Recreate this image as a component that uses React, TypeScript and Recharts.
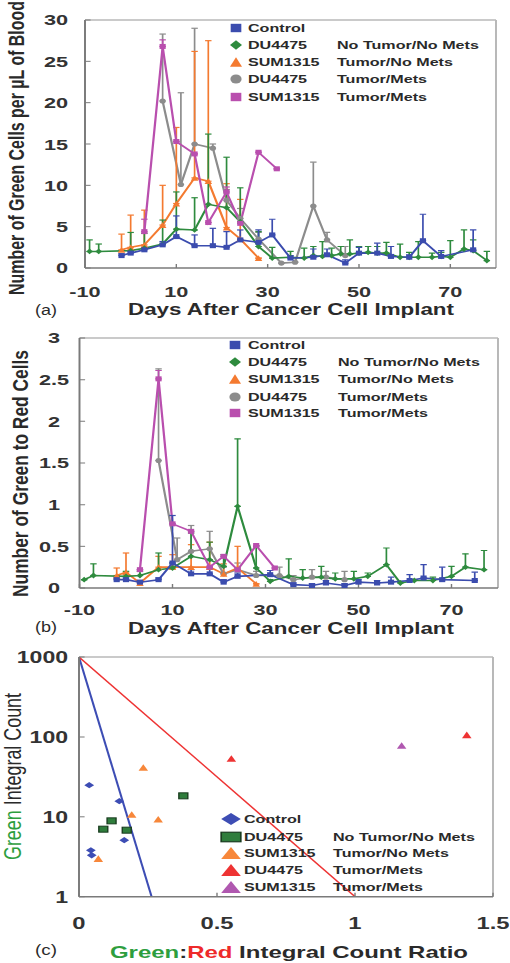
import React from 'react';
import { ComposedChart, Line, Scatter, XAxis, YAxis, ErrorBar, ReferenceLine } from 'recharts';

// ---------- shared tick labels ----------
const dayTicks = [-10, 10, 30, 50, 70];
const cellTicks = [0, 5, 10, 15, 20, 25, 30];
const ratioTicks = [0, 0.5, 1, 1.5, 2, 2.5, 3];
const countRatioTicks = [0, 0.5, 1, 1.5];
const integralTicks = [1, 10, 100, 1000];

const groupNames = ['Control', 'DU4475', 'SUM1315', 'DU4475', 'SUM1315'];
const groupStatus = ['', 'No Tumor/No Mets', 'Tumor/No Mets', 'Tumor/Mets', 'Tumor/Mets'];

// ---------- panel (a): green cells per µL of blood ----------
const ctrlDaysA = [-2, 0, 3, 7, 10, 14, 18, 21, 24, 28, 31, 35, 40, 43, 47, 50, 54, 57, 61, 64, 68, 75];
const ctrlValsA = [1.5, 1.8, 2.2, 2.8, 3.8, 2.7, 2.7, 2.5, 3.4, 3.1, 4.0, 1.2, 1.3, 1.6, 0.6, 1.8, 1.8, 1.4, 1.3, 3.3, 1.4, 2.2];
const ctrlErrA = [0.2, 0.2, 0.3, 0.4, 2.5, 1.3, 2.1, 1.9, 1.2, 1.5, 1.9, 0.3, 1.0, 0.7, 0.4, 0.7, 1.2, 1.2, 0.3, 3.2, 0.7, 2.4];

const duNoDaysA = [-9, -7, 0, 3, 7, 10, 14, 17, 21, 24, 28, 31, 35, 38, 40, 42, 44, 46, 48, 50, 52, 54, 56, 59, 61, 63, 66, 68, 70, 73, 75, 78];
const duNoValsA = [2.0, 2.0, 2.1, 2.4, 2.9, 4.7, 4.6, 7.7, 7.3, 5.6, 2.6, 1.2, 1.3, 1.2, 1.5, 1.4, 1.5, 1.7, 1.7, 1.8, 1.9, 1.8, 1.8, 1.3, 1.3, 1.3, 1.3, 1.4, 1.3, 2.3, 2.1, 0.9];
const duNoErrA = [1.4, 0.9, 2.2, 1.8, 2.9, 4.5, 3.9, 8.5, 6.1, 4.1, 1.8, 1.3, 0.7, 1.2, 1.1, 1.8, 0.9, 0.9, 1.7, 0.8, 0.7, 0.8, 1.3, 1.6, 0.6, 1.9, 0.5, 0.5, 2.0, 2.3, 1.3, 1.1];

const sumNoDaysA = [-2, 0, 3, 7, 10, 14, 17, 21, 24, 28];
const sumNoValsA = [2.2, 2.5, 2.8, 5.2, 7.8, 10.9, 10.5, 4.9, 3.5, 1.2];
const sumNoErrA = [1.9, 3.9, 4.2, 4.8, 9.2, 15.3, 17.0, 5.3, 4.8, 0];

const duMetDaysA = [7, 11, 14, 18, 21, 24, 28, 33, 36, 40, 43, 47];
const duMetValsA = [20.2, 10.1, 15.0, 14.5, 8.2, 6.0, 3.5, 0.6, 0.7, 7.5, 3.4, 1.5];
const duMetErrA = [8.1, 11.1, 14.0, 0.5, 1.3, 1.2, 0.8, 0, 0, 5.3, 0.9, 1.1];

const sumMetDaysA = [3, 7, 10, 14, 17, 21, 24, 28, 32];
const sumMetValsA = [4.4, 26.8, 15.3, 13.8, 5.5, 9.2, 5.4, 14.0, 12.0];
const sumMetErrA = [1.5, 0.8, 0, 0, 0, 0.6, 0, 0, 0];

// ---------- panel (b): green to red cell ratio ----------
const ctrlDaysB = [-2, 0, 3, 7, 10, 14, 18, 21, 24, 31, 36, 40, 43, 47, 50, 54, 57, 61, 64, 68, 75];
const ctrlValsB = [0.1, 0.1, 0.07, 0.1, 0.3, 0.17, 0.17, 0.07, 0.14, 0.16, 0.04, 0.03, 0.06, 0.03, 0.07, 0.06, 0.07, 0.09, 0.12, 0.1, 0.09];
const ctrlErrB = [0.02, 0.02, 0.02, 0.02, 0.57, 0.05, 0.06, 0.03, 0.04, 0.05, 0.02, 0.02, 0.03, 0.02, 0.03, 0.03, 0.06, 0.07, 0.16, 0.15, 0.1];

const duNoDaysB = [-9, -7, 0, 3, 7, 10, 14, 18, 21, 24, 28, 31, 35, 38, 42, 45, 49, 52, 56, 59, 62, 66, 70, 73, 77];
const duNoValsB = [0.1, 0.15, 0.14, 0.15, 0.22, 0.24, 0.38, 0.34, 0.26, 0.98, 0.24, 0.08, 0.14, 0.12, 0.13, 0.11, 0.11, 0.14, 0.28, 0.06, 0.09, 0.09, 0.14, 0.25, 0.22];
const duNoErrB = [0, 0.14, 0.06, 0.05, 0.2, 0.06, 0.28, 0.21, 0.14, 0.81, 0.26, 0.02, 0.21, 0.1, 0.13, 0.07, 0.09, 0.04, 0.2, 0.01, 0.01, 0.04, 0.12, 0.16, 0.23];

const sumNoDaysB = [-2, 0, 3, 7, 10, 14, 18, 21, 24, 28];
const sumNoValsB = [0.15, 0.19, 0.06, 0.25, 0.25, 0.25, 0.25, 0.17, 0.24, 0.05];
const sumNoErrB = [0.09, 0.23, 0.03, 0.13, 0.15, 0.27, 0.3, 0.12, 0.26, 0];

const duMetDaysB = [7, 11, 14, 18, 21, 24, 28, 33, 36, 40, 43, 47];
const duMetValsB = [1.53, 0.34, 0.44, 0.47, 0.17, 0.22, 0.15, 0.15, 0.1, 0.13, 0.13, 0.1];
const duMetErrB = [1.1, 0.26, 0.31, 0.21, 0.08, 0.08, 0.05, 0.1, 0.05, 0.09, 0.07, 0.1];

const sumMetDaysB = [3, 7, 10, 14, 18, 21, 24, 28, 32];
const sumMetValsB = [0.22, 2.51, 0.77, 0.68, 0.25, 0.38, 0.22, 0.51, 0.24];
const sumMetErrB = [0, 0.1, 0, 0, 0, 0, 0, 0, 0];

// ---------- panel (c): integral count vs ratio ----------
const ctrlRatioC = [0.037, 0.146, 0.164, 0.043, 0.046];
const ctrlCountC = [24.9, 15.7, 5.1, 3.8, 3.3];
const duNoRatioC = [0.118, 0.088, 0.173, 0.378];
const duNoCountC = [8.9, 7.0, 6.8, 18.3];
const sumNoRatioC = [0.233, 0.191, 0.287, 0.07];
const sumNoCountC = [41.4, 10.7, 9.3, 3.0];
const duMetRatioC = [0.552, 1.405];
const duMetCountC = [53.6, 106];
const sumMetRatioC = [1.169];
const sumMetCountC = [78];
const blueBoundRatio = [0, 0.263];
const blueBoundCount = [1000, 1];
const redBoundRatio = [0, 1.0];
const redBoundCount = [1000, 1];

// ---------- styling ----------
const S = 1.4;
const W = 510 / S;
const FONT = "'Liberation Sans', Arial, Helvetica, sans-serif";
const AX = '#7a7a7a';
const BOX = '#b8b8b8';
const TXT = '#2a2a2a';
const BLUE = '#3b4cae';
const GREEN = '#2e8b3e';
const ORANGE = '#f47a30';
const GRAY = '#8c8c8c';
const MAGENTA = '#b94fae';
const C_BLUE = '#3d4db4';
const C_DKGREEN = '#2f7d3c';
const C_ORANGE = '#f7873a';
const C_RED = '#ee3333';
const C_PURPLE = '#b058b0';

const rows = (d: number[], v: number[], e: number[]) => d.map((day, i) => ({ d: day, v: v[i], e: [0, e[i]] }));
const pts = (x: number[], y: number[]) => x.map((xv, i) => ({ x: xv, y: y[i] }));

const Mark = ({ cx, cy, kind, fill, w, h, stroke, sw }: any) => {
  if (cx == null || cy == null || isNaN(cx) || isNaN(cy)) return null;
  const st = stroke || 'none';
  const s = sw || 0;
  if (kind === 'square') return <rect x={cx - w / 2} y={cy - h / 2} width={w} height={h} fill={fill} stroke={st} strokeWidth={s} />;
  if (kind === 'diamond')
    return <polygon points={`${cx},${cy - h / 2} ${cx + w / 2},${cy} ${cx},${cy + h / 2} ${cx - w / 2},${cy}`} fill={fill} stroke={st} strokeWidth={s} />;
  if (kind === 'triangle')
    return <polygon points={`${cx},${cy - h / 2} ${cx + w / 2},${cy + h / 2} ${cx - w / 2},${cy + h / 2}`} fill={fill} stroke={st} strokeWidth={s} />;
  return <ellipse cx={cx} cy={cy} rx={w / 2} ry={h / 2} fill={fill} stroke={st} strokeWidth={s} />;
};

const markSize: any = {
  square: [4.4, 5],
  diamond: [4.6, 5.8],
  triangle: [5.4, 5.8],
  circle: [4.4, 5.2],
};

const XTick = (fs: number) => (p: any) => (
  <text x={p.x} y={p.y} dy="0.71em" textAnchor="middle" fontFamily={FONT} fontWeight="bold" fontSize={fs} fill="#333">
    {p.payload.value}
  </text>
);
const YTick = (fs: number, anchor: string) => (p: any) => (
  <text x={p.x} y={p.y} dy="0.355em" textAnchor={anchor} fontFamily={FONT} fontWeight="bold" fontSize={fs} fill="#333">
    {p.payload.value}
  </text>
);

const kindsAB = ['square', 'diamond', 'triangle', 'circle', 'square'];
const colorsAB = [BLUE, GREEN, ORANGE, GRAY, MAGENTA];
const kindsC = ['diamond', 'square', 'triangle', 'triangle', 'triangle'];
const colorsC = [C_BLUE, C_DKGREEN, C_ORANGE, C_RED, C_PURPLE];

const seriesA = [
  rows(duMetDaysA, duMetValsA, duMetErrA),
  rows(sumNoDaysA, sumNoValsA, sumNoErrA),
  rows(duNoDaysA, duNoValsA, duNoErrA),
  rows(sumMetDaysA, sumMetValsA, sumMetErrA),
  rows(ctrlDaysA, ctrlValsA, ctrlErrA),
];
const seriesB = [
  rows(duMetDaysB, duMetValsB, duMetErrB),
  rows(sumNoDaysB, sumNoValsB, sumNoErrB),
  rows(duNoDaysB, duNoValsB, duNoErrB),
  rows(sumMetDaysB, sumMetValsB, sumMetErrB),
  rows(ctrlDaysB, ctrlValsB, ctrlErrB),
];
// drawing order -> legend index
const orderAB = [3, 2, 1, 4, 0];

const renderSeries = (series: any[]) =>
  series.map((data, i) => {
    const gi = orderAB[i];
    const color = colorsAB[gi];
    const kind = kindsAB[gi];
    const [w, h] = markSize[kind];
    return (
      <Line
        key={`s${i}`}
        data={data}
        dataKey="v"
        type="linear"
        stroke={color}
        strokeWidth={1.6}
        isAnimationActive={false}
        activeDot={false}
        dot={(p: any) => <Mark key={`m${i}-${p.index}`} cx={p.cx} cy={p.cy} kind={kind} fill={color} w={w} h={h} />}
      >
        <ErrorBar dataKey="e" width={2.3} stroke={color} strokeWidth={1.2} direction="y" />
      </Line>
    );
  });

const scatterC = [
  pts(ctrlRatioC, ctrlCountC),
  pts(duNoRatioC, duNoCountC),
  pts(sumNoRatioC, sumNoCountC),
  pts(duMetRatioC, duMetCountC),
  pts(sumMetRatioC, sumMetCountC),
];
const cMark: any = {
  diamond: [7, 6.4],
  square: [6.4, 6],
  triangle: [6.8, 6.6],
};

const Legend = ({ rowsY, iconX, textX, col2X, kinds, colors, big }: any) => (
  <g>
    {rowsY.map((y: number, i: number) => {
      const k = kinds[i];
      const size = big
        ? k === 'square'
          ? [14, 9.5]
          : [14, 12]
        : k === 'square'
        ? [7.6, 8.4]
        : k === 'circle'
        ? [8, 9]
        : [8.6, 9.6];
      return (
        <g key={`lg${i}`}>
          <Mark cx={iconX} cy={y} kind={k} fill={colors[i]} w={size[0]} h={size[1]} stroke={big && k === 'square' ? '#1a3d20' : undefined} sw={big && k === 'square' ? 1.2 : 0} />
          <text x={textX} y={y} dy="0.36em" fontFamily={FONT} fontWeight="bold" fontSize={11.5} fill={TXT}>
            {groupNames[i]}
          </text>
          {groupStatus[i] ? (
            <text x={col2X} y={y} dy="0.36em" fontFamily={FONT} fontWeight="bold" fontSize={11.5} fill={TXT}>
              {groupStatus[i]}
            </text>
          ) : null}
        </g>
      );
    })}
  </g>
);

export default function App() {
  const axisCommon = {
    axisLine: { stroke: AX, strokeWidth: 1.4 },
    tickLine: { stroke: AX, strokeWidth: 1 },
    tickSize: -4,
    interval: 0 as const,
    allowDataOverflow: true,
  };
  return (
    <div style={{ position: 'absolute', left: 0, top: 0, width: 510, height: 963, background: '#fff', overflow: 'hidden' }}>
      <div style={{ position: 'absolute', left: 0, top: 0, width: W, height: 963, transform: `scaleX(${S})`, transformOrigin: '0 0' }}>
        {/* panel (a) */}
        <div style={{ position: 'absolute', left: 0, top: 0 }}>
          <ComposedChart width={W} height={300} margin={{ top: 20, right: W - 496 / S, bottom: 0, left: 0 }}>
            <XAxis type="number" dataKey="d" domain={[-10, 80]} ticks={dayTicks} height={32} tickMargin={22.5} tick={XTick(15.5)} {...axisCommon} />
            <YAxis type="number" domain={[0, 30]} ticks={cellTicks} width={85 / S} tickMargin={16.1} tick={YTick(15.5, 'end')} {...axisCommon} />
            <ReferenceLine x={80} stroke={BOX} strokeWidth={1.4} />
            <ReferenceLine y={30} stroke={BOX} strokeWidth={1.4} />
            {renderSeries(seriesA)}
          </ComposedChart>
        </div>
        {/* panel (b) */}
        <div style={{ position: 'absolute', left: 0, top: 318 }}>
          <ComposedChart width={W} height={300} margin={{ top: 20, right: W - 498 / S, bottom: 0, left: 0 }}>
            <XAxis type="number" dataKey="d" domain={[-10, 80]} ticks={dayTicks} height={30} tickMargin={20.5} tick={XTick(15.5)} {...axisCommon} />
            <YAxis type="number" domain={[0, 3]} ticks={ratioTicks} width={79.5 / S} tickMargin={22.2} tick={YTick(15.5, 'middle')} {...axisCommon} />
            <ReferenceLine x={80} stroke={BOX} strokeWidth={1.4} />
            <ReferenceLine y={3} stroke={BOX} strokeWidth={1.4} />
            {renderSeries(seriesB)}
          </ComposedChart>
        </div>
        {/* panel (c) */}
        <div style={{ position: 'absolute', left: 0, top: 637 }}>
          <ComposedChart width={W} height={300} margin={{ top: 20, right: W - 493 / S, bottom: 0, left: 0 }}>
            <XAxis type="number" dataKey="x" domain={[0, 1.5]} ticks={countRatioTicks} height={40.3} tickMargin={24.3} tick={XTick(17)} {...axisCommon} />
            <YAxis type="number" dataKey="y" scale="log" domain={[1, 1000]} ticks={integralTicks} width={79 / S} tickMargin={11.8} tick={YTick(16.5, 'end')} {...axisCommon} />
            <ReferenceLine x={1.5} stroke={BOX} strokeWidth={1.4} />
            <ReferenceLine y={1000} stroke={BOX} strokeWidth={1.4} />
            <Line data={pts(blueBoundRatio, blueBoundCount)} dataKey="y" type="linear" stroke={C_BLUE} strokeWidth={1.5} dot={false} activeDot={false} isAnimationActive={false} />
            <Line data={pts(redBoundRatio, redBoundCount)} dataKey="y" type="linear" stroke={C_RED} strokeWidth={1.2} dot={false} activeDot={false} isAnimationActive={false} />
            {scatterC.map((data, i) => {
              const k = kindsC[i];
              const [w, h] = cMark[k];
              return (
                <Scatter
                  key={`c${i}`}
                  data={data}
                  dataKey="y"
                  isAnimationActive={false}
                  shape={(p: any) => (
                    <Mark cx={p.cx} cy={p.cy} kind={k} fill={colorsC[i]} w={w} h={h} stroke={k === 'square' ? '#1a3d20' : undefined} sw={k === 'square' ? 1 : 0} />
                  )}
                />
              );
            })}
          </ComposedChart>
        </div>

        {/* titles, legends, panel labels */}
        <svg width={W} height={963} style={{ position: 'absolute', left: 0, top: 0, pointerEvents: 'none' }}>
          {/* (a) */}
          <text transform={`translate(${15.5 / S},148) rotate(-90)`} textAnchor="middle" dy="0.36em" fontFamily={FONT} fontWeight="bold" fontSize={16} fill={TXT} textLength={294} lengthAdjust="spacingAndGlyphs">
            Number of Green Cells per µL of Blood
          </text>
          <text x={291 / S} y={309} dy="0.36em" textAnchor="middle" fontFamily={FONT} fontWeight="bold" fontSize={16} fill={TXT} textLength={326 / S} lengthAdjust="spacingAndGlyphs">
            Days After Cancer Cell Implant
          </text>
          <text x={46 / S} y={310} dy="0.36em" textAnchor="middle" fontFamily={FONT} fontSize={15} fill={TXT} textLength={22 / S} lengthAdjust="spacingAndGlyphs">
            (a)
          </text>
          <Legend rowsY={[28, 45, 62, 79, 97]} iconX={236 / S} textX={248 / S} col2X={337 / S} kinds={kindsAB} colors={colorsAB} />

          {/* (b) */}
          <text transform={`translate(${20 / S},473.5) rotate(-90)`} textAnchor="middle" dy="0.36em" fontFamily={FONT} fontWeight="bold" fontSize={16} fill={TXT} textLength={247} lengthAdjust="spacingAndGlyphs">
            Number of Green to Red Cells
          </text>
          <text x={291 / S} y={628} dy="0.36em" textAnchor="middle" fontFamily={FONT} fontWeight="bold" fontSize={16} fill={TXT} textLength={326 / S} lengthAdjust="spacingAndGlyphs">
            Days After Cancer Cell Implant
          </text>
          <text x={46 / S} y={627} dy="0.36em" textAnchor="middle" fontFamily={FONT} fontSize={15} fill={TXT} textLength={22 / S} lengthAdjust="spacingAndGlyphs">
            (b)
          </text>
          <Legend rowsY={[345, 362, 379, 397, 413]} iconX={235 / S} textX={248 / S} col2X={338 / S} kinds={kindsAB} colors={colorsAB} />

          {/* (c) */}
          <text transform={`translate(${13 / S},776.5) rotate(-90)`} textAnchor="middle" dy="0.36em" fontFamily={FONT} fontSize={16.5} fill={TXT} textLength={167} lengthAdjust="spacingAndGlyphs">
            <tspan fill="#2e9e3e">Green</tspan>
            <tspan fill={TXT}> Integral Count</tspan>
          </text>
          <text x={289 / S} y={952} dy="0.36em" textAnchor="middle" fontFamily={FONT} fontWeight="bold" fontSize={17} fill={TXT} textLength={358 / S} lengthAdjust="spacingAndGlyphs">
            <tspan fill="#2e9e3e">Green</tspan>
            <tspan fill={TXT}>:</tspan>
            <tspan fill="#ee2a2a">Red</tspan>
            <tspan fill={TXT}> Integral Count Ratio</tspan>
          </text>
          <text x={46 / S} y={950} dy="0.36em" textAnchor="middle" fontFamily={FONT} fontSize={15} fill={TXT} textLength={22 / S} lengthAdjust="spacingAndGlyphs">
            (c)
          </text>
          <Legend rowsY={[819, 837, 853, 870, 887]} iconX={231 / S} textX={244 / S} col2X={333 / S} kinds={kindsC} colors={colorsC} big />
        </svg>
      </div>
    </div>
  );
}
